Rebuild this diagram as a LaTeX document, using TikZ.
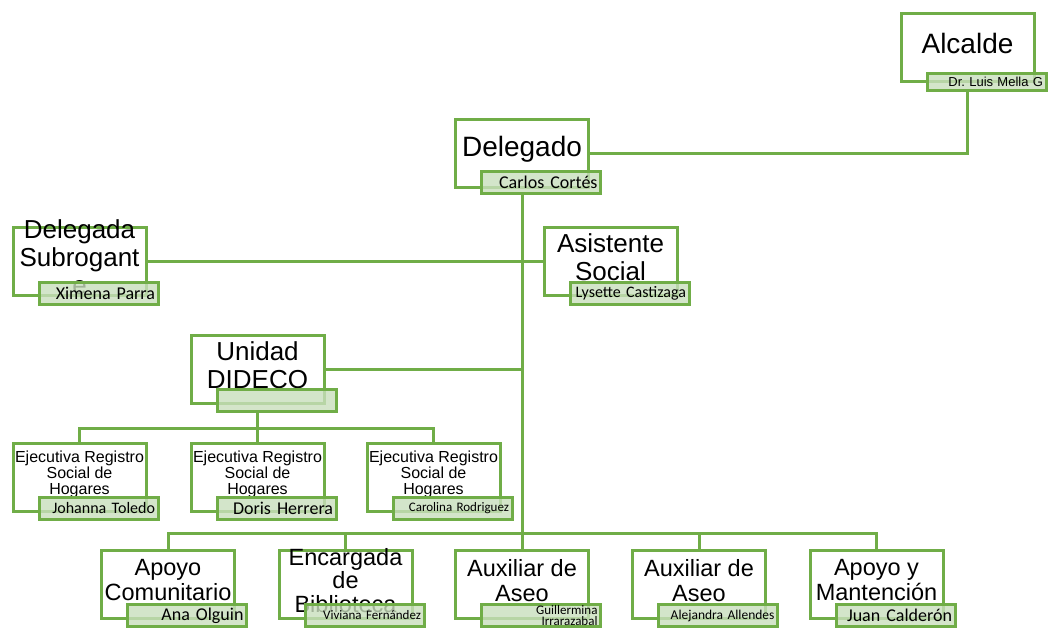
\documentclass[tikz,border=0pt]{standalone}
\usepackage{fontspec}
\setmainfont{Liberation Sans}
\newfontfamily\calibri{Carlito}[WordSpace=0.75]
\usetikzlibrary{positioning}
\definecolor{verde}{HTML}{70AD47}
\definecolor{verdeclaro}{HTML}{C9DFBD}
\frenchspacing

\begin{document}
\begin{tikzpicture}[x=1pt,y=-1pt,
    cargo/.style={draw=verde,line width=3pt,fill=white,minimum width=133pt,minimum height=68pt,inner sep=0pt},
    nombre/.style={draw=verde,line width=3pt,fill=verdeclaro,fill opacity=0.8,text opacity=1,text width=113pt,inner xsep=3pt,inner ysep=0pt,minimum height=22pt,align=right,anchor=south west,font=\calibri\fontsize{18}{18}\selectfont},
    titulo/.style={align=center,inner sep=0pt,yshift=4pt,font=\fontsize{26}{28}\selectfont},
    ejecutiva/.style={align=center,inner sep=0pt,yshift=3pt,font=\fontsize{16}{16}\selectfont},
    linea/.style={draw=verde,line width=3pt}]

    \useasboundingbox (0,0) rectangle (1048,627);

    % cargos
    \node[cargo] (alc) at (967.5,47) {};
    \node[titulo,font=\fontsize{28}{30}\selectfont] (alc-t) at (alc) {Alcalde};
    \node[nombre,minimum height=17pt,font=\fontsize{13}{13}\selectfont] (alc-n) at ([xshift=26pt,yshift=-9pt]alc.south west) {Dr. Luis Mella G};

    \node[cargo] (del) at (522,153.5) {};
    \node[titulo,font=\fontsize{28}{30}\selectfont] (del-t) at (del) {Delegado};
    \node[nombre] (del-n) at ([xshift=26pt,yshift=-6pt]del.south west) {Carlos Cortés};

    \node[cargo] (sub) at (79.5,261) {};
    \node[titulo] (sub-t) at (sub) {Delegada\\Subrogant\\e};
    \node[nombre] (sub-n) at ([xshift=26pt,yshift=-9pt]sub.south west) {Ximena Parra};

    \node[cargo] (asi) at (610.5,261) {};
    \node[titulo] (asi-t) at (asi) {Asistente\\Social};
    \node[nombre,font=\calibri\fontsize{16}{16}\selectfont] (asi-n) at ([xshift=26pt,yshift=-9pt]asi.south west) {Lysette Castizaga};

    \node[cargo] (did) at (257.5,369) {};
    \node[titulo] (did-t) at (did) {Unidad\\DIDECO};
    \node[nombre] (did-n) at ([xshift=26pt,yshift=-8pt]did.south west) {};

    % ejecutivas
    \node[cargo] (ej1) at (79.5,477) {};
    \node[ejecutiva] (ej1-t) at (ej1) {Ejecutiva Registro\\Social de\\Hogares};
    \node[nombre,font=\calibri\fontsize{16}{16}\selectfont] (ej1-n) at ([xshift=26pt,yshift=-8pt]ej1.south west) {Johanna Toledo};

    \node[cargo] (ej2) at (257.5,477) {};
    \node[ejecutiva] (ej2-t) at (ej2) {Ejecutiva Registro\\Social de\\Hogares};
    \node[nombre] (ej2-n) at ([xshift=26pt,yshift=-8pt]ej2.south west) {Doris Herrera};

    \node[cargo] (ej3) at (433.5,477) {};
    \node[ejecutiva] (ej3-t) at (ej3) {Ejecutiva Registro\\Social de\\Hogares};
    \node[nombre,font=\calibri\fontsize{13}{13}\selectfont] (ej3-n) at ([xshift=26pt,yshift=-8pt]ej3.south west) {Carolina Rodriguez};

    % fila inferior
    \node[cargo] (apc) at (168,584.5) {};
    \node[titulo,font=\fontsize{23.5}{25}\selectfont] (apc-t) at (apc) {Apoyo\\Comunitario};
    \node[nombre] (apc-n) at ([xshift=26pt,yshift=-8pt]apc.south west) {Ana Olguin};

    \node[cargo] (enc) at (345.5,584.5) {};
    \node[titulo,font=\fontsize{23.5}{23.5}\selectfont] (enc-t) at (enc) {Encargada\\de\\Biblioteca};
    \node[nombre,font=\calibri\fontsize{13}{13}\selectfont] (enc-n) at ([xshift=26pt,yshift=-8pt]enc.south west) {Viviana Fernández};

    \node[cargo] (aux1) at (522,584.5) {};
    \node[titulo,font=\fontsize{23.5}{25}\selectfont] (aux1-t) at (aux1) {Auxiliar de\\Aseo};
    \node[nombre,font=\calibri\fontsize{13}{11}\selectfont] (aux1-n) at ([xshift=26pt,yshift=-8pt]aux1.south west) {Guillermina\\Irrarazabal};

    \node[cargo] (aux2) at (699,584.5) {};
    \node[titulo,font=\fontsize{23.5}{25}\selectfont] (aux2-t) at (aux2) {Auxiliar de\\Aseo};
    \node[nombre,font=\calibri\fontsize{13.5}{13.5}\selectfont] (aux2-n) at ([xshift=26pt,yshift=-8pt]aux2.south west) {Alejandra Allendes};

    \node[cargo] (apm) at (876.5,584.5) {};
    \node[titulo,font=\fontsize{23.5}{25}\selectfont] (apm-t) at (apm) {Apoyo y\\Mantención};
    \node[nombre] (apm-n) at ([xshift=26pt,yshift=-8pt]apm.south west) {Juan Calderón};

    % lineas
    \draw[linea] (alc.south |- alc-n.south) |- (del.east);
    \draw[linea] (del.south |- del-n.south) -- (aux1.north);
    \draw[linea] (sub.east) -- (asi.west);
    \draw[linea] (did.east) -- (did.east -| del.south);

    \draw[linea] (did.south |- did-n.south) -- ++(0,16) coordinate (busA);
    \draw[linea] (busA) -| (ej1.north);
    \draw[linea] (busA) -| (ej2.north);
    \draw[linea] (busA) -| (ej3.north);

    \coordinate (busB) at ([yshift=16pt]aux1.north);
    \draw[linea] (busB) -| (apc.north);
    \draw[linea] (busB) -| (enc.north);
    \draw[linea] (busB) -| (aux2.north);
    \draw[linea] (busB) -| (apm.north);
\end{tikzpicture}
\end{document}
